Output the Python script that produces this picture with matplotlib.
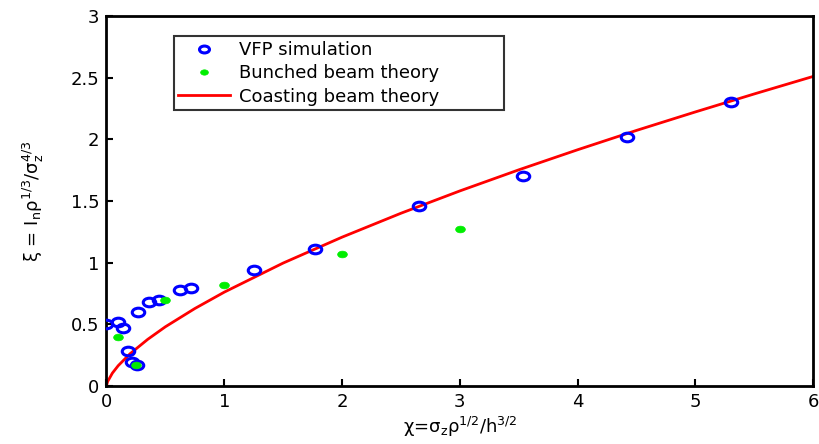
import matplotlib
matplotlib.use("Agg")
import matplotlib.pyplot as plt
from matplotlib.path import Path
from matplotlib.transforms import Affine2D

plt.rcParams['font.family'] = ['DejaVu Sans']
plt.rcParams['mathtext.default'] = 'regular'
plt.rcParams['font.size'] = 13

# VFP simulation results
vfp_chi = [0.0, 0.10, 0.14, 0.18, 0.22, 0.26, 0.27, 0.36, 0.45, 0.62, 0.72,
           1.25, 1.77, 2.65, 3.54, 4.42, 5.30]
vfp_xi = [0.50, 0.52, 0.47, 0.28, 0.19, 0.17, 0.60, 0.68, 0.70, 0.78, 0.79,
          0.94, 1.11, 1.46, 1.70, 2.02, 2.30]

# bunched beam theory
bunch_chi = [0.1, 0.25, 0.5, 1.0, 2.0, 3.0]
bunch_xi = [0.40, 0.17, 0.70, 0.82, 1.07, 1.27]

# coasting beam theory curve
coast_chi = [0, 0.01, 0.05, 0.1, 0.2, 0.35, 0.5, 0.75, 1.0, 1.5, 2.0, 2.5,
             3.0, 3.5, 4.0, 4.5, 5.0, 5.5, 6.0]
coast_xi = [0, 0.035, 0.103, 0.164, 0.26, 0.377, 0.479, 0.627, 0.76, 0.996,
            1.206, 1.40, 1.581, 1.752, 1.915, 2.072, 2.222, 2.368, 2.51]

# wide oval marker
oval = Path.unit_circle().transformed(Affine2D().scale(1.45, 1.0))

fig = plt.figure(figsize=(8.19, 4.44), dpi=100)
ax = fig.add_axes([0.130, 0.131, 0.863, 0.833])

ax.plot(vfp_chi, vfp_xi, linestyle='none', marker=oval, color='none',
        markeredgecolor='#0000ff', markersize=9, markeredgewidth=2.2,
        label='VFP simulation', zorder=3)
ax.plot(bunch_chi, bunch_xi, linestyle='none', marker=oval, color='#00ee00',
        markeredgecolor='#00ee00', markersize=7, markeredgewidth=0.5,
        label='Bunched beam theory', zorder=4)
ax.plot(coast_chi, coast_xi, '-', color='#ff0000', linewidth=2,
        label='Coasting beam theory', zorder=2)

ax.set_xlim(0, 6)
ax.set_ylim(0, 3)
ax.set_xticks([0, 1, 2, 3, 4, 5, 6])
ax.set_yticks([0, 0.5, 1, 1.5, 2, 2.5, 3])
ax.set_yticklabels(['0', '0.5', '1', '1.5', '2', '2.5', '3'])
ax.tick_params(direction='in', length=5, width=1.5, labelsize=13, pad=5,
               top=False, right=False)
for s in ax.spines.values():
    s.set_linewidth(2)

ax.set_xlabel(r'χ=σ$_z$ρ$^{1/2}$/h$^{3/2}$', fontsize=13, labelpad=3)
ax.set_ylabel(r'ξ = I$_n$ρ$^{1/3}$/σ$_z^{4/3}$', fontsize=13, labelpad=18)

leg = ax.legend(loc='upper left', bbox_to_anchor=(0.095, 0.945, 0.467, 0.0),
                mode='expand', fontsize=13, markerscale=0.8,
                frameon=True, fancybox=False, borderpad=0.25, labelspacing=0.3,
                handlelength=2.9, handletextpad=0.45, borderaxespad=0)
leg.get_frame().set_edgecolor('black')
leg.get_frame().set_linewidth(1.5)

fig.savefig('out.png', dpi=100)
